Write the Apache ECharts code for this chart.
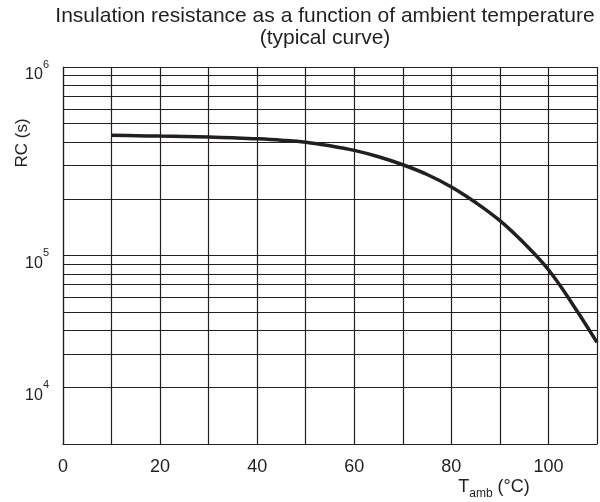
<!DOCTYPE html>
<html>
<head>
<meta charset="utf-8">
<script src="https://cdn.jsdelivr.net/npm/echarts@6/dist/echarts.min.js"></script>
<style>
  html, body { margin: 0; padding: 0; background: #fff; }
  #chart { width: 600px; height: 502px; }
</style>
</head>
<body>
<div id="chart"></div>
<script>
// ambient temperature (°C) and RC (s)
var temps = [10, 15, 20, 25, 30, 35, 40, 45, 50, 55, 60, 65, 70, 75, 80, 85, 90, 95, 100, 105, 110];
var rcValues = [434000, 432000, 430000, 428000, 425000, 421000, 416000, 409000, 399000, 382000, 361000, 334000, 303000, 269000, 231000, 191000, 153000, 116000, 84000, 55000, 34600];

// horizontal grid lines of the log paper
var gridValues = [10000, 20000, 30000, 40000, 50000, 60000, 70000, 80000, 90000,
  100000, 200000, 300000, 400000, 500000, 600000, 700000, 800000, 900000, 1000000];
// y labels (the sheet puts "10^4" on the 2x10^4 line)
var yLabelValues = [20000, 100000, 1000000];
var yLabelExps = ['4', '5', '6'];
var xTickLabels = [0, 20, 40, 60, 80, 100];

var ink = '#231f20';
var font = 'Liberation Sans, Arial, Helvetica, sans-serif';

function lg (v) { return Math.log10(v) }

var chart = echarts.init(document.getElementById('chart'));
var option = {
  animation: false,
  textStyle: { fontFamily: font, color: ink },
  title: {
    text: 'Insulation resistance as a function of ambient temperature\n(typical curve)',
    left: 325,
    top: 5,
    padding: 0,
    textAlign: 'center',
    textStyle: { fontFamily: font, fontSize: 21, fontWeight: 'normal', color: ink, lineHeight: 22 }
  },
  grid: { left: 63, right: 1, top: 67, bottom: 58 },
  xAxis: {
    type: 'value',
    min: 0,
    max: 110,
    interval: 10,
    axisLine: { show: true, lineStyle: { color: ink, width: 1.2 } },
    axisTick: { show: false },
    splitLine: { show: true, lineStyle: { color: ink, width: 1.2 } },
    axisLabel: {
      margin: 14,
      fontSize: 18,
      color: ink,
      fontFamily: font,
      formatter: function (v) {
        return xTickLabels.indexOf(v) >= 0 ? String(v) : ''
      }
    }
  },
  yAxis: {
    type: 'value',
    min: lg(10000),
    max: lg(1000000),
    axisLine: { show: true, lineStyle: { color: ink, width: 1.2 } },
    axisTick: { show: false, customValues: gridValues.map(lg) },
    splitLine: { show: true, lineStyle: { color: ink, width: 1.2 } },
    axisLabel: {
      customValues: yLabelValues.map(lg),
      margin: 14,
      padding: [8, 0, 0, 0],
      color: ink,
      fontFamily: font,
      formatter: function (v) {
        for (var i = 0; i < yLabelValues.length; i++) {
          if (Math.abs(lg(yLabelValues[i]) - v) < 1e-6) return '{b|10}{s|' + yLabelExps[i] + '}'
        }
        return ''
      },
      rich: {
        b: { fontSize: 16, fontFamily: font, color: ink, lineHeight: 24, verticalAlign: 'bottom' },
        s: { fontSize: 11, fontFamily: font, color: ink, lineHeight: 24, verticalAlign: 'top' }
      }
    }
  },
  graphic: [
    {
      type: 'text',
      x: 22,
      y: 143,
      rotation: Math.PI / 2,
      style: { text: 'RC (s)', fontSize: 17, fontFamily: font, fill: ink, align: 'center', verticalAlign: 'middle' }
    },
    {
      type: 'text',
      x: 494,
      y: 489,
      style: {
        text: '{t|T}{s|amb}{t| (°C)}',
        align: 'center',
        verticalAlign: 'middle',
        fill: ink,
        rich: {
          t: { fontSize: 18, fontFamily: font, fill: ink, lineHeight: 22, verticalAlign: 'top' },
          s: { fontSize: 12, fontFamily: font, fill: ink, lineHeight: 22, verticalAlign: 'bottom' }
        }
      }
    }
  ],
  series: [
    {
      type: 'line',
      smooth: 0.4,
      symbol: 'none',
      lineStyle: { color: ink, width: 3.5 },
      data: temps.map(function (t, i) { return [t, lg(rcValues[i])] })
    }
  ]
};
chart.setOption(option);
</script>
</body>
</html>
